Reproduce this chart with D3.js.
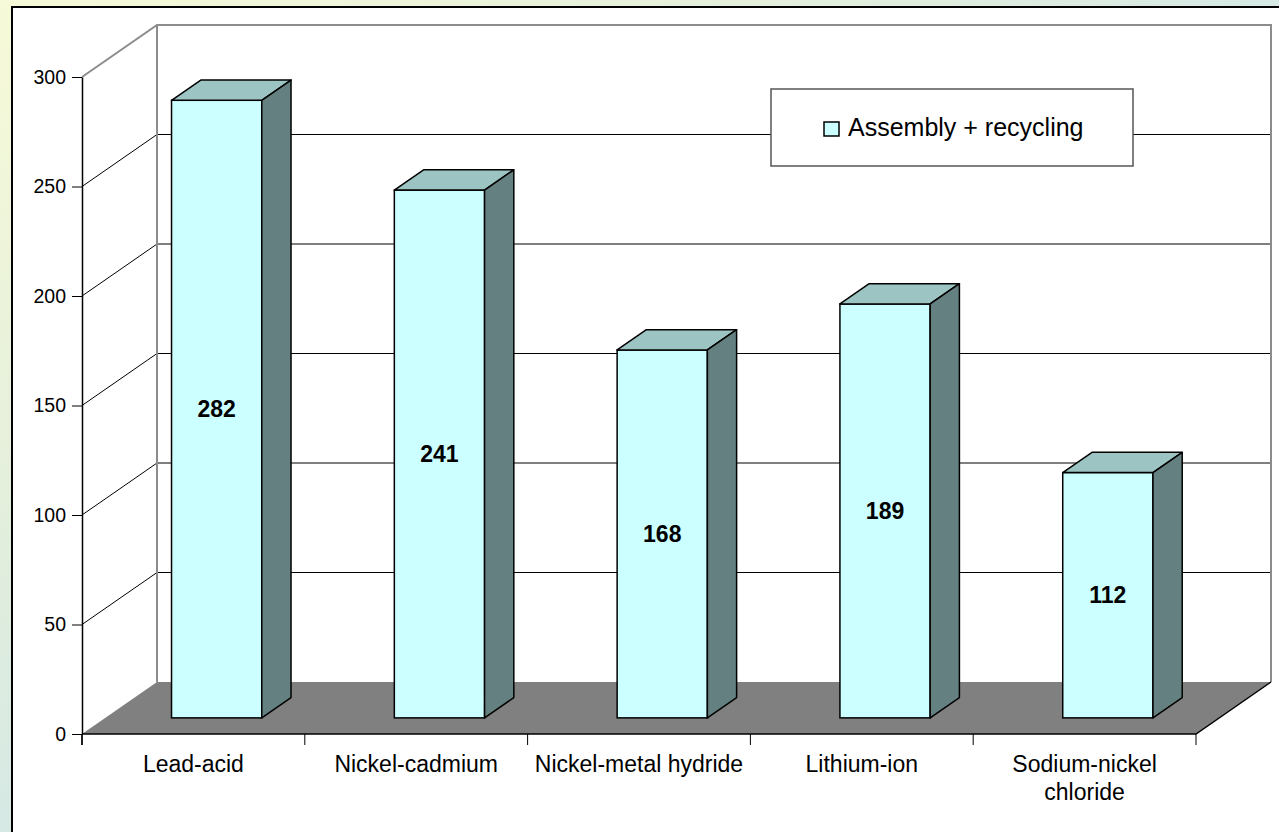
<!DOCTYPE html>
<html>
<head>
<meta charset="utf-8">
<script src="https://cdn.jsdelivr.net/npm/d3@7"></script>
<style>
  html, body { margin: 0; padding: 0; }
  body {
    width: 1279px; height: 832px; overflow: hidden;
    background: linear-gradient(to bottom right, #f7fad8 0%, #e4efdc 30%, #d2e7e6 55%, #cfe5e8 100%);
  }
  svg { display: block; font-family: "Liberation Sans", Arial, sans-serif; }
</style>
</head>
<body>
<svg id="chart" width="1279" height="832"></svg>
<script>
// Battery technologies and their assembly + recycling figures
const categories = ["Lead-acid", "Nickel-cadmium", "Nickel-metal hydride", "Lithium-ion", "Sodium-nickel chloride"];
const categoryLines = [["Lead-acid"], ["Nickel-cadmium"], ["Nickel-metal hydride"], ["Lithium-ion"], ["Sodium-nickel", "chloride"]];
const values = [282, 241, 168, 189, 112];
const seriesName = "Assembly + recycling";
const yTicks = [0, 50, 100, 150, 200, 250, 300];

const svg = d3.select("#chart");

// Plot geometry (front plane + depth offset for the 3D box)
const x0 = 82, x1 = 1196, yTop = 77, yBottom = 734;
const DX = 75, DY = 52;
const barFront = 0.31, barBack = 0.70;   // bar position inside the depth
const barRatio = 0.405;                  // bar width relative to category step

const x = d3.scaleBand().domain(categories).range([x0, x1]).padding(0);
const y = d3.scaleLinear().domain([0, 300]).range([yBottom, yTop]);

// Outer chart frame
svg.append("rect")
  .attr("x", 12).attr("y", 7).attr("width", 1300).attr("height", 900)
  .attr("fill", "#ffffff").attr("stroke", "#000").attr("stroke-width", 2);

const g = svg.append("g");

// Back wall and side wall
g.append("polygon")
  .attr("points", [[x0 + DX, y(300) - DY], [x1 + DX, y(300) - DY], [x1 + DX, y(0) - DY], [x0 + DX, y(0) - DY]].join(" "))
  .attr("fill", "#fff");
g.append("polygon")
  .attr("points", [[x0, y(300)], [x0 + DX, y(300) - DY], [x0 + DX, y(0) - DY], [x0, y(0)]].join(" "))
  .attr("fill", "#fff");

// Gridlines on back wall and side wall
const gridVals = yTicks.filter(v => v > 0 && v < 300);
g.selectAll("line.gridBack").data(gridVals).join("line")
  .attr("class", "gridBack")
  .attr("x1", x0 + DX).attr("x2", x1 + DX)
  .attr("y1", d => y(d) - DY).attr("y2", d => y(d) - DY)
  .attr("stroke", "#000").attr("stroke-width", 1);
g.selectAll("line.gridSide").data(gridVals).join("line")
  .attr("class", "gridSide")
  .attr("x1", x0).attr("x2", x0 + DX)
  .attr("y1", d => y(d)).attr("y2", d => y(d) - DY)
  .attr("stroke", "#000").attr("stroke-width", 1);

// Wall outlines (gray)
const wallStroke = "#8c8c8c";
g.append("path")
  .attr("d", `M${x0},${y(300)} L${x0 + DX},${y(300) - DY} L${x1 + DX},${y(300) - DY} L${x1 + DX},${y(0) - DY}`)
  .attr("fill", "none").attr("stroke", wallStroke).attr("stroke-width", 2);
g.append("line")
  .attr("x1", x0 + DX).attr("x2", x0 + DX)
  .attr("y1", y(300) - DY).attr("y2", y(0) - DY)
  .attr("stroke", wallStroke).attr("stroke-width", 2);

// Floor
g.append("polygon")
  .attr("points", [[x0, y(0)], [x1, y(0)], [x1 + DX, y(0) - DY], [x0 + DX, y(0) - DY]].join(" "))
  .attr("fill", "#808080");
g.append("path")
  .attr("d", `M${x0},${y(0)} L${x1},${y(0)} L${x1 + DX},${y(0) - DY}`)
  .attr("fill", "none").attr("stroke", "#000").attr("stroke-width", 1.5);

// Category ticks along the front floor edge
const bounds = categories.map(c => x(c)).concat([x1]);
g.selectAll("line.xtick").data(bounds).join("line")
  .attr("class", "xtick")
  .attr("x1", d => d).attr("x2", d => d)
  .attr("y1", y(0)).attr("y2", y(0) + 11)
  .attr("stroke", "#000").attr("stroke-width", 1);

// 3D bars
const bw = x.bandwidth() * barRatio;
const dF = barFront, dB = barBack;
const bars = g.selectAll("g.bar").data(categories.map((c, i) => ({ c, v: values[i] }))).join("g").attr("class", "bar");

bars.each(function (d) {
  const sel = d3.select(this);
  const cx = x(d.c) + x.bandwidth() / 2;
  const lx = cx - bw / 2 + dF * DX, rx = cx + bw / 2 + dF * DX;
  const by = y(0) - dF * DY, ty = y(d.v) - dF * DY;
  const ddx = (dB - dF) * DX, ddy = (dB - dF) * DY;
  // front face
  sel.append("rect")
    .attr("x", lx).attr("y", ty).attr("width", rx - lx).attr("height", by - ty)
    .attr("fill", "#ccffff").attr("stroke", "#000").attr("stroke-width", 1.5);
  // top face
  sel.append("polygon")
    .attr("points", [[lx, ty], [rx, ty], [rx + ddx, ty - ddy], [lx + ddx, ty - ddy]].join(" "))
    .attr("fill", "#9cc4c2").attr("stroke", "#000").attr("stroke-width", 1.5).attr("stroke-linejoin", "round");
  // side face
  sel.append("polygon")
    .attr("points", [[rx, ty], [rx + ddx, ty - ddy], [rx + ddx, by - ddy], [rx, by]].join(" "))
    .attr("fill", "#658080").attr("stroke", "#000").attr("stroke-width", 1.5).attr("stroke-linejoin", "round");
  // value label
  sel.append("text")
    .attr("x", (lx + rx) / 2).attr("y", (ty + by) / 2)
    .attr("dy", "0.35em").attr("text-anchor", "middle")
    .attr("font-size", 23).attr("font-weight", "bold").attr("fill", "#000")
    .text(d.v);
});

// Value axis
const yAxis = svg.append("g")
  .attr("transform", `translate(${x0},0)`)
  .call(d3.axisLeft(y).tickValues(yTicks).tickSize(10).tickSizeOuter(0).tickPadding(6));
yAxis.select(".domain").attr("stroke", "#000").attr("stroke-width", 1.5);
yAxis.selectAll(".tick line").attr("stroke", "#000").attr("stroke-width", 1);
yAxis.selectAll(".tick text")
  .attr("font-size", 19.5).attr("fill", "#000")
  .attr("font-family", "'Liberation Sans', Arial, sans-serif");
svg.append("line")
  .attr("x1", x0).attr("x2", x0).attr("y1", y(0)).attr("y2", y(0) + 11)
  .attr("stroke", "#000").attr("stroke-width", 1.5);

// Category labels
const xl = svg.append("g");
categories.forEach((c, i) => {
  const t = xl.append("text")
    .attr("x", x(c) + x.bandwidth() / 2).attr("y", 772)
    .attr("text-anchor", "middle").attr("font-size", 23).attr("fill", "#000");
  categoryLines[i].forEach((line, j) => {
    t.append("tspan").attr("x", x(c) + x.bandwidth() / 2).attr("dy", j === 0 ? 0 : 27.5).text(line);
  });
});

// Legend
const leg = svg.append("g");
leg.append("rect")
  .attr("x", 771).attr("y", 89).attr("width", 362).attr("height", 77)
  .attr("fill", "#fff").attr("stroke", "#555").attr("stroke-width", 1.5);
leg.append("rect")
  .attr("x", 824).attr("y", 122).attr("width", 15).attr("height", 14)
  .attr("fill", "#ccffff").attr("stroke", "#000").attr("stroke-width", 1.5);
leg.append("text")
  .attr("x", 848).attr("y", 136)
  .attr("font-size", 25).attr("fill", "#000")
  .text(seriesName);
</script>
</body>
</html>
